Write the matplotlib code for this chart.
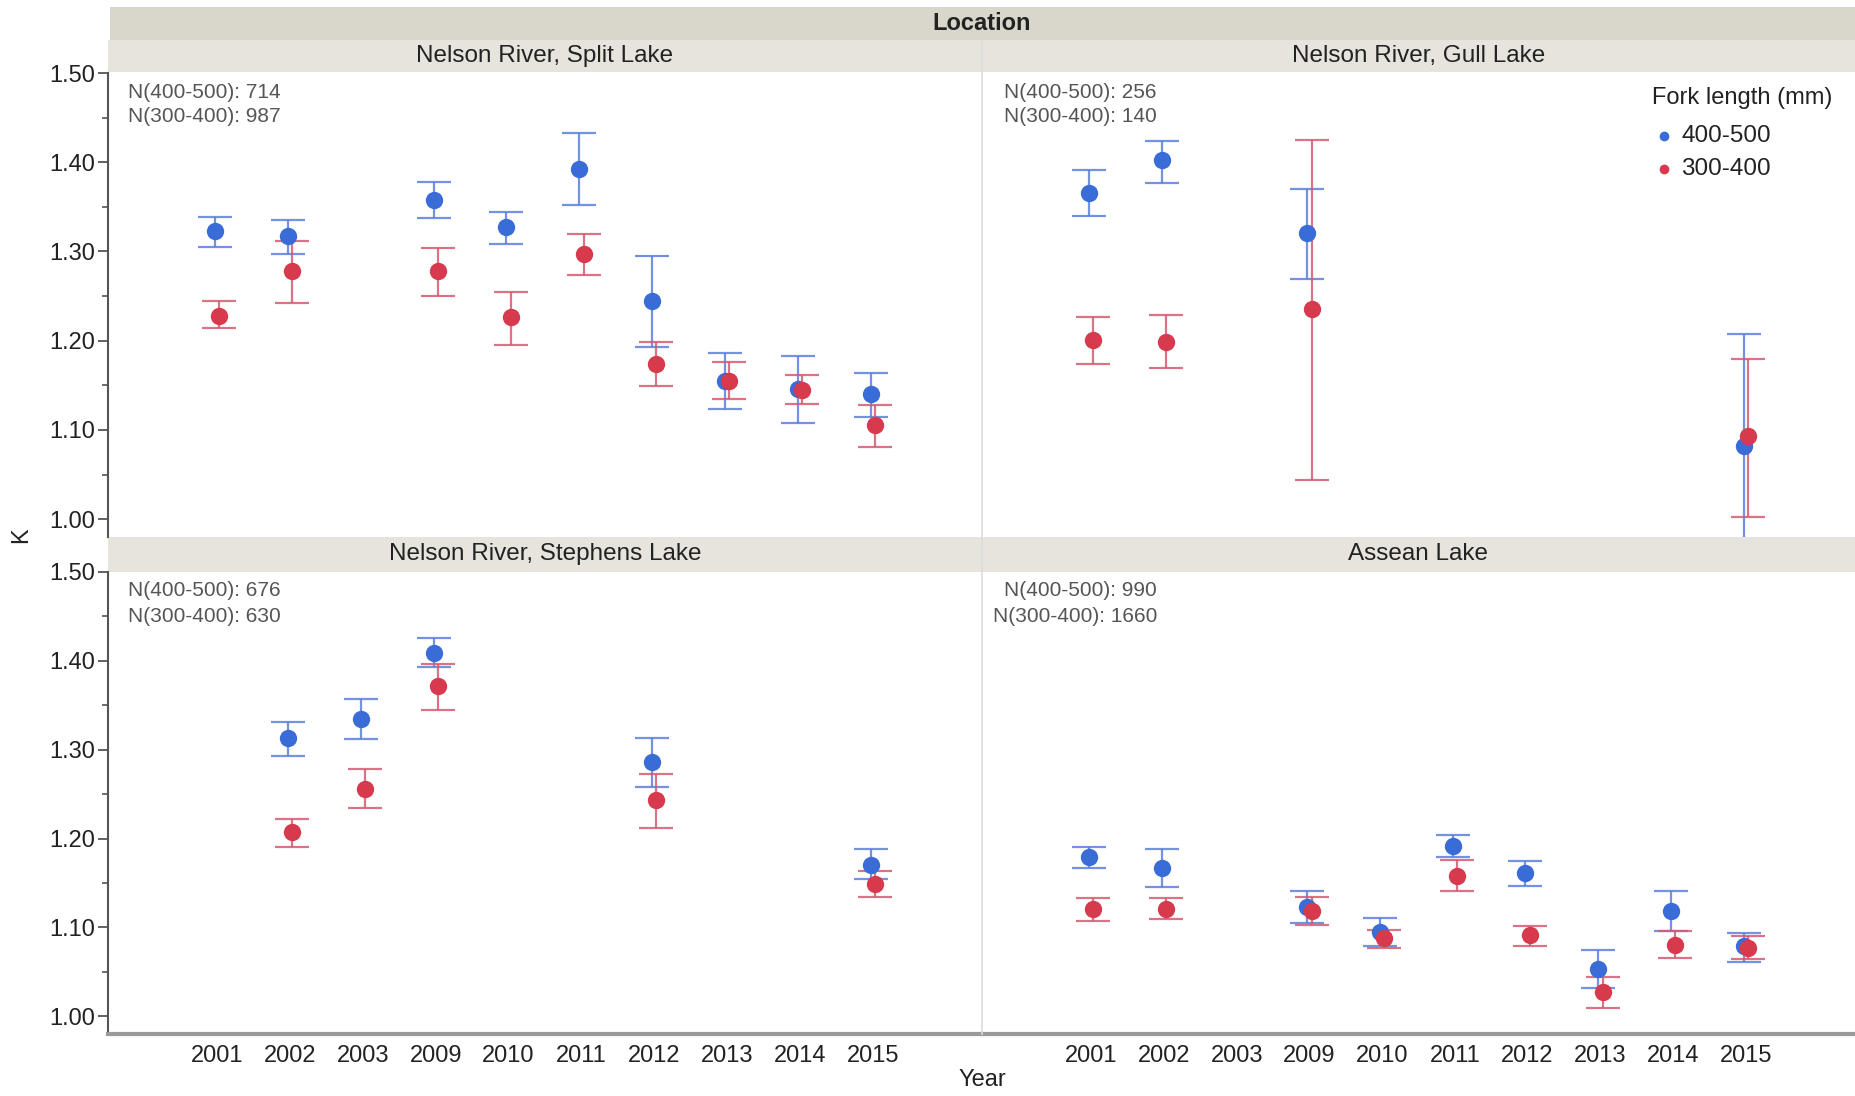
import numpy as np
import matplotlib
matplotlib.use("Agg")
import matplotlib.pyplot as plt
from matplotlib.patches import Rectangle
from matplotlib.lines import Line2D

plt.rcParams['font.family'] = ['Liberation Sans', 'DejaVu Sans']

nan = np.nan
years = ["2001", "2002", "2003", "2009", "2010", "2011", "2012", "2013", "2014", "2015"]
series_labels = ["400-500", "300-400"]

# Split Lake
split_big = [1.323, 1.317, nan, 1.358, 1.327, 1.392, 1.244, 1.155, 1.146, 1.140]
split_big_lo = [1.305, 1.297, nan, 1.338, 1.308, 1.352, 1.193, 1.124, 1.108, 1.115]
split_big_hi = [1.339, 1.335, nan, 1.378, 1.344, 1.433, 1.295, 1.186, 1.183, 1.164]
split_small = [1.228, 1.278, nan, 1.278, 1.226, 1.297, 1.174, 1.155, 1.145, 1.105]
split_small_lo = [1.214, 1.242, nan, 1.250, 1.195, 1.274, 1.149, 1.135, 1.129, 1.081]
split_small_hi = [1.244, 1.312, nan, 1.304, 1.255, 1.320, 1.198, 1.176, 1.162, 1.128]

# Gull Lake
gull_big = [1.366, 1.402, nan, 1.321, nan, nan, nan, nan, nan, 1.082]
gull_big_lo = [1.340, 1.377, nan, 1.269, nan, nan, nan, nan, nan, 0.957]
gull_big_hi = [1.391, 1.424, nan, 1.370, nan, nan, nan, nan, nan, 1.207]
gull_small = [1.201, 1.199, nan, 1.236, nan, nan, nan, nan, nan, 1.093]
gull_small_lo = [1.174, 1.169, nan, 1.044, nan, nan, nan, nan, nan, 1.002]
gull_small_hi = [1.227, 1.229, nan, 1.425, nan, nan, nan, nan, nan, 1.179]

# Stephens Lake
steph_big = [nan, 1.313, 1.335, 1.409, nan, nan, 1.286, nan, nan, 1.170]
steph_big_lo = [nan, 1.293, 1.312, 1.393, nan, nan, 1.258, nan, nan, 1.154]
steph_big_hi = [nan, 1.331, 1.357, 1.426, nan, nan, 1.313, nan, nan, 1.188]
steph_small = [nan, 1.207, 1.256, 1.372, nan, nan, 1.243, nan, nan, 1.149]
steph_small_lo = [nan, 1.190, 1.234, 1.345, nan, nan, 1.212, nan, nan, 1.134]
steph_small_hi = [nan, 1.222, 1.278, 1.397, nan, nan, 1.273, nan, nan, 1.164]

# Assean Lake
assean_big = [1.179, 1.167, nan, 1.123, 1.095, 1.192, 1.161, 1.053, 1.119, 1.079]
assean_big_lo = [1.167, 1.146, nan, 1.105, 1.079, 1.179, 1.147, 1.032, 1.096, 1.061]
assean_big_hi = [1.191, 1.188, nan, 1.141, 1.111, 1.204, 1.175, 1.074, 1.141, 1.094]
assean_small = [1.121, 1.121, nan, 1.119, 1.088, 1.158, 1.091, 1.027, 1.080, 1.077]
assean_small_lo = [1.107, 1.109, nan, 1.103, 1.077, 1.141, 1.079, 1.009, 1.065, 1.064]
assean_small_hi = [1.133, 1.133, nan, 1.134, 1.097, 1.176, 1.102, 1.044, 1.096, 1.090]

panel_titles = ["Nelson River, Split Lake", "Nelson River, Gull Lake",
                "Nelson River, Stephens Lake", "Assean Lake"]
n_big = ["714", "256", "676", "990"]
n_small = ["987", "140", "630", "1660"]

panels = [
    (split_big, split_big_lo, split_big_hi, split_small, split_small_lo, split_small_hi),
    (gull_big, gull_big_lo, gull_big_hi, gull_small, gull_small_lo, gull_small_hi),
    (steph_big, steph_big_lo, steph_big_hi, steph_small, steph_small_lo, steph_small_hi),
    (assean_big, assean_big_lo, assean_big_hi, assean_small, assean_small_lo, assean_small_hi),
]

W, H = 1855, 1096
fig = plt.figure(figsize=(W / 100, H / 100), dpi=100)
fig.patch.set_facecolor("white")

BLUE = "#3a6cd8"
RED = "#d63a4c"
BLUE_E = "#5a7fdc"
RED_E = "#d45a70"
STRIP_OUTER = "#d9d7cb"
STRIP_INNER = "#e6e4dc"
TXT = "#222222"


def frac_rect(x0, y0, x1, y1):
    return [x0 / W, 1 - y1 / H, (x1 - x0) / W, (y1 - y0) / H]


def fig_rect(x0, y0, x1, y1, color):
    fig.add_artist(Rectangle((x0 / W, 1 - y1 / H), (x1 - x0) / W, (y1 - y0) / H,
                             transform=fig.transFigure, facecolor=color,
                             edgecolor="none", zorder=0))


XL, XM, XR = 108, 982, 1855
boxes = [(XL, 73, XM, 537), (XM, 73, XR, 537),
         (XL, 572, XM, 1034), (XM, 572, XR, 1034)]

# header bands
fig_rect(110, 7, XR, 40, STRIP_OUTER)
fig_rect(XL, 40, XM, 72, STRIP_INNER)
fig_rect(XM, 40, XR, 72, STRIP_INNER)
fig_rect(XL, 537, XM, 572, STRIP_INNER)
fig_rect(XM, 537, XR, 572, STRIP_INNER)
fig.text(XM / W, 1 - 23 / H, "Location", ha="center", va="center",
         fontsize=17, fontweight="bold", color=TXT)

x = np.arange(len(years))
off = 0.03

for i, (box, data) in enumerate(zip(boxes, panels)):
    ax = fig.add_axes(frac_rect(*box))
    ax.set_facecolor("none")
    bm, bl, bh, sm, sl, sh = [np.array(d, dtype=float) for d in data]
    for xs, m, lo, hi, ec in [(x - off, bm, bl, bh, BLUE_E),
                              (x + off, sm, sl, sh, RED_E)]:
        ax.errorbar(xs, m, yerr=[m - lo, hi - m], fmt="none", ecolor=ec,
                    elinewidth=1.6, capsize=12, capthick=1.6, alpha=0.85, zorder=2)
    ax.plot(x - off, bm, "o", color=BLUE, markersize=12.5, markeredgewidth=0, zorder=3)
    ax.plot(x + off, sm, "o", color=RED, markersize=12.5, markeredgewidth=0, zorder=4)

    ax.set_xlim(-1.5, len(years) + 0.5)
    ax.set_ylim(0.98, 1.50)
    for s in ax.spines.values():
        s.set_visible(False)
    left = i in (0, 2)
    bottom = i in (2, 3)
    if left:
        ax.spines["left"].set_visible(True)
        ax.spines["left"].set_color("#555555")
        ax.spines["left"].set_linewidth(1.5)
        ax.set_yticks(np.arange(1.0, 1.51, 0.1))
        ax.set_yticks(np.arange(1.05, 1.5, 0.1), minor=True)
        ax.set_yticklabels([f"{v:.2f}" for v in np.arange(1.0, 1.51, 0.1)])
        ax.tick_params(axis="y", which="major", length=7, width=1.3, color="#555555",
                       labelsize=17, labelcolor=TXT, pad=2)
        ax.tick_params(axis="y", which="minor", length=4, width=1.2, color="#555555")
    else:
        ax.set_yticks([])
    if bottom:
        ax.spines["bottom"].set_visible(True)
        ax.spines["bottom"].set_color("#9a9a9a")
        ax.spines["bottom"].set_linewidth(3)
        ax.set_xticks(x)
        ax.set_xticklabels(years)
        ax.tick_params(axis="x", length=0, labelsize=17, labelcolor=TXT, pad=8)
    else:
        ax.set_xticks([])

    x0, y0, x1, y1 = box
    fig.text((x0 + x1) / 2 / W, 1 - ((y0 - 17) if i < 2 else (y0 - 18)) / H,
             panel_titles[i], ha="center", va="center", fontsize=17.5, color=TXT)
    t1 = f"N({series_labels[0]}): {n_big[i]}"
    t2 = f"N({series_labels[1]}): {n_small[i]}"
    if left:
        tx, ha = x0 + 20, "left"
    else:
        tx, ha = x0 + 175, "right"
    fig.text(tx / W, 1 - (y0 + 19) / H, t1, ha=ha, va="center", fontsize=15, color="#555555")
    fig.text(tx / W, 1 - (y0 + 44) / H, t2, ha=ha, va="center", fontsize=15, color="#555555")

# divider between columns
fig.add_artist(Line2D([XM / W, XM / W], [1 - 40 / H, 1 - 1034 / H],
                      transform=fig.transFigure, color="#dcdcdc", linewidth=1.2, zorder=1))

# axis titles
fig.text(21 / W, 1 - 535 / H, "K", rotation=90, ha="center", va="center",
         fontsize=17, color=TXT)
fig.text(XM / W, 1 - 1080 / H, "Year", ha="center", va="center",
         fontsize=17, color=TXT)

# legend
fig.text(1652 / W, 1 - 98 / H, "Fork length (mm)", ha="left", va="center",
         fontsize=17, color=TXT)
for k, (lab, col) in enumerate(zip(series_labels, [BLUE, RED])):
    yy = 1 - (136 + 33 * k) / H
    fig.add_artist(Line2D([1664 / W], [yy], marker="o", color=col, markersize=7,
                          markeredgewidth=0, transform=fig.transFigure))
    fig.text(1681 / W, yy, lab, ha="left", va="center", fontsize=17.5, color=TXT)

fig.savefig("out.png", dpi=100)
